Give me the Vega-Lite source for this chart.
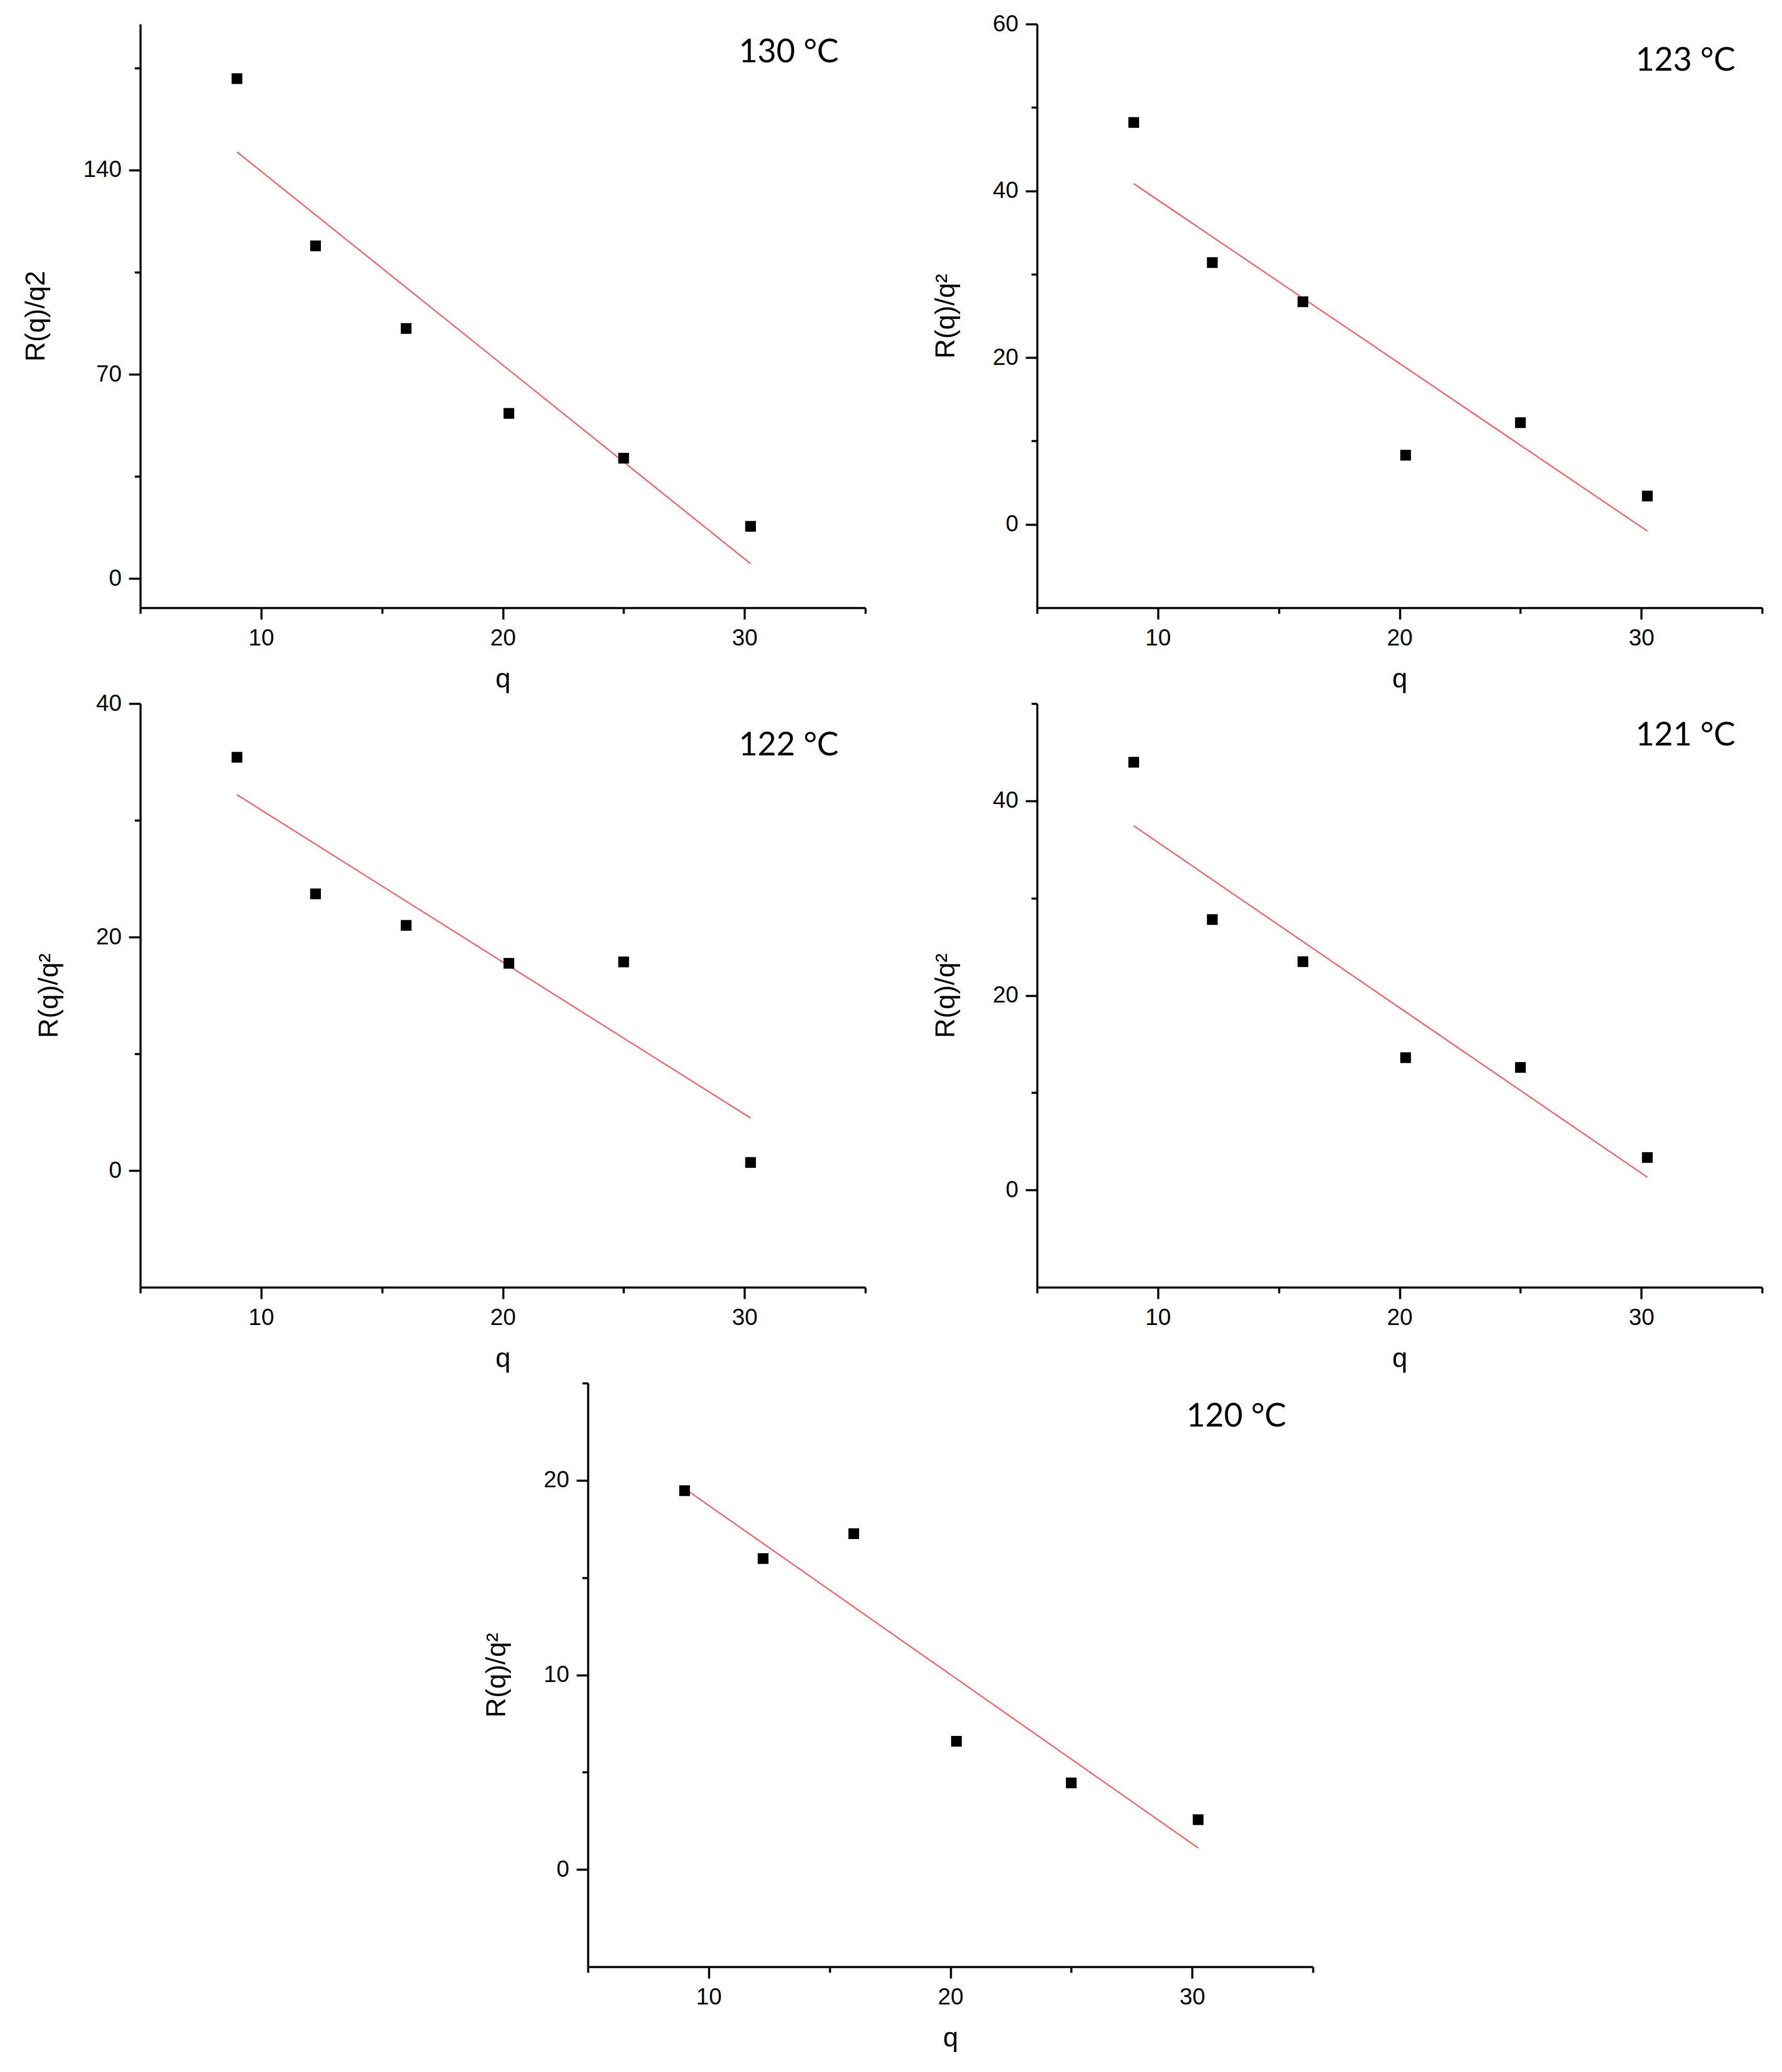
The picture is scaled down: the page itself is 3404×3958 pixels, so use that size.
{
  "$schema": "https://vega.github.io/schema/vega-lite/v6.json",
  "background": "white",
  "padding": {"left": 42, "top": 24, "right": 20, "bottom": 20},
  "spacing": 0,
  "config": {
    "view": {"stroke": null},
    "axis": {
      "grid": false,
      "domainColor": "black",
      "domainWidth": 4,
      "tickColor": "black",
      "tickWidth": 4,
      "tickSize": 22,
      "labelFont": "Liberation Sans",
      "labelFontSize": 44,
      "labelColor": "black",
      "labelPadding": 14,
      "labelOverlap": false,
      "titleFont": "Liberation Sans",
      "titleFontSize": 52,
      "titleFontWeight": "normal",
      "titleColor": "black"
    },
    "axisX": {"titlePadding": 30, "labelFlush": false},
    "axisY": {"titlePadding": 63},
    "title": {
      "font": "Lato",
      "fontSize": 62,
      "fontWeight": "normal",
      "color": "black",
      "anchor": "end",
      "frame": "group",
      "orient": "top",
      "offset": 0,
      "baseline": "alphabetic",
      "dx": -51
    }
  },
  "datasets": {
    "points": [
      {"panel": "130", "q": 9, "r": 171.3},
      {"panel": "130", "q": 12.25, "r": 114.0},
      {"panel": "130", "q": 16, "r": 85.7},
      {"panel": "130", "q": 20.25, "r": 56.6},
      {"panel": "130", "q": 25, "r": 41.25},
      {"panel": "130", "q": 30.25, "r": 17.9},
      {"panel": "123", "q": 9, "r": 48.2},
      {"panel": "123", "q": 12.25, "r": 31.4},
      {"panel": "123", "q": 16, "r": 26.7},
      {"panel": "123", "q": 20.25, "r": 8.3},
      {"panel": "123", "q": 25, "r": 12.2},
      {"panel": "123", "q": 30.25, "r": 3.4},
      {"panel": "122", "q": 9, "r": 35.4},
      {"panel": "122", "q": 12.25, "r": 23.7},
      {"panel": "122", "q": 16, "r": 21.0},
      {"panel": "122", "q": 20.25, "r": 17.75},
      {"panel": "122", "q": 25, "r": 17.87},
      {"panel": "122", "q": 30.25, "r": 0.69},
      {"panel": "121", "q": 9, "r": 43.97},
      {"panel": "121", "q": 12.25, "r": 27.8},
      {"panel": "121", "q": 16, "r": 23.47},
      {"panel": "121", "q": 20.25, "r": 13.6},
      {"panel": "121", "q": 25, "r": 12.6},
      {"panel": "121", "q": 30.25, "r": 3.34},
      {"panel": "120", "q": 9, "r": 19.47},
      {"panel": "120", "q": 12.25, "r": 15.98},
      {"panel": "120", "q": 16, "r": 17.26},
      {"panel": "120", "q": 20.25, "r": 6.59},
      {"panel": "120", "q": 25, "r": 4.45},
      {"panel": "120", "q": 30.25, "r": 2.56}
    ],
    "fits": [
      {"panel": "130", "q": 9, "r": 146.2},
      {"panel": "130", "q": 30.25, "r": 5.1},
      {"panel": "123", "q": 9, "r": 40.86},
      {"panel": "123", "q": 30.25, "r": -0.8},
      {"panel": "122", "q": 9, "r": 32.19},
      {"panel": "122", "q": 30.25, "r": 4.5},
      {"panel": "121", "q": 9, "r": 37.43},
      {"panel": "121", "q": 30.25, "r": 1.31},
      {"panel": "120", "q": 9, "r": 19.58},
      {"panel": "120", "q": 30.25, "r": 1.11}
    ]
  },
  "vconcat": [
    {
      "spacing": 125,
      "hconcat": [
        {
          "width": 1385,
          "height": 1115,
          "title": {"text": "130 °C", "dy": 90},
          "encoding": {
            "x": {"field": "q", "type": "quantitative", "title": "q",
              "scale": {"domain": [5, 35], "nice": false, "zero": false},
              "axis": {"values": [5, 10, 15, 20, 25, 30, 35],
                "labelExpr": "datum.value % 10 === 0 ? datum.label : ''",
                "tickSize": {"condition": {"test": "datum.value % 10 === 0", "value": 22}, "value": 11}}},
            "y": {"field": "r", "type": "quantitative", "title": "R(q)/q2",
              "scale": {"domain": [-10, 190], "nice": false, "zero": false},
              "axis": {"values": [0, 35, 70, 105, 140, 175],
                "labelExpr": "datum.value % 70 === 0 ? datum.label : ''",
                "tickSize": {"condition": {"test": "datum.value % 70 === 0", "value": 22}, "value": 11}}}
          },
          "layer": [
            {"data": {"name": "fits"}, "transform": [{"filter": "datum.panel === '130'"}],
              "mark": {"type": "line", "color": "#ff5a5a", "strokeWidth": 2.5}},
            {"data": {"name": "points"}, "transform": [{"filter": "datum.panel === '130'"}],
              "mark": {"type": "square", "filled": true, "color": "black", "size": 420, "opacity": 1}}
          ]
        },
        {
          "width": 1385,
          "height": 1115,
          "title": {"text": "123 °C", "dy": 128},
          "encoding": {
            "x": {"field": "q", "type": "quantitative", "title": "q",
              "scale": {"domain": [5, 35], "nice": false, "zero": false},
              "axis": {"values": [5, 10, 15, 20, 25, 30, 35],
                "labelExpr": "datum.value % 10 === 0 ? datum.label : ''",
                "tickSize": {"condition": {"test": "datum.value % 10 === 0", "value": 22}, "value": 11}}},
            "y": {"field": "r", "type": "quantitative", "title": "R(q)/q²",
              "scale": {"domain": [-10, 60], "nice": false, "zero": false},
              "axis": {"values": [0, 10, 20, 30, 40, 50, 60],
                "labelExpr": "datum.value % 20 === 0 ? datum.label : ''",
                "tickSize": {"condition": {"test": "datum.value % 20 === 0", "value": 22}, "value": 11}}}
          },
          "layer": [
            {"data": {"name": "fits"}, "transform": [{"filter": "datum.panel === '123'"}],
              "mark": {"type": "line", "color": "#ff5a5a", "strokeWidth": 2.5}},
            {"data": {"name": "points"}, "transform": [{"filter": "datum.panel === '123'"}],
              "mark": {"type": "square", "filled": true, "color": "black", "size": 420, "opacity": 1}}
          ]
        }
      ]
    },
    {
      "spacing": 125,
      "hconcat": [
        {
          "width": 1385,
          "height": 1115,
          "title": {"text": "122 °C", "dy": 138},
          "encoding": {
            "x": {"field": "q", "type": "quantitative", "title": "q",
              "scale": {"domain": [5, 35], "nice": false, "zero": false},
              "axis": {"values": [5, 10, 15, 20, 25, 30, 35],
                "labelExpr": "datum.value % 10 === 0 ? datum.label : ''",
                "tickSize": {"condition": {"test": "datum.value % 10 === 0", "value": 22}, "value": 11}}},
            "y": {"field": "r", "type": "quantitative", "title": "R(q)/q²",
              "scale": {"domain": [-10, 40], "nice": false, "zero": false},
              "axis": {"values": [0, 10, 20, 30, 40],
                "labelExpr": "datum.value % 20 === 0 ? datum.label : ''",
                "tickSize": {"condition": {"test": "datum.value % 20 === 0", "value": 22}, "value": 11}}}
          },
          "layer": [
            {"data": {"name": "fits"}, "transform": [{"filter": "datum.panel === '122'"}],
              "mark": {"type": "line", "color": "#ff5a5a", "strokeWidth": 2.5}},
            {"data": {"name": "points"}, "transform": [{"filter": "datum.panel === '122'"}],
              "mark": {"type": "square", "filled": true, "color": "black", "size": 420, "opacity": 1}}
          ]
        },
        {
          "width": 1385,
          "height": 1115,
          "title": {"text": "121 °C", "dy": 119},
          "encoding": {
            "x": {"field": "q", "type": "quantitative", "title": "q",
              "scale": {"domain": [5, 35], "nice": false, "zero": false},
              "axis": {"values": [5, 10, 15, 20, 25, 30, 35],
                "labelExpr": "datum.value % 10 === 0 ? datum.label : ''",
                "tickSize": {"condition": {"test": "datum.value % 10 === 0", "value": 22}, "value": 11}}},
            "y": {"field": "r", "type": "quantitative", "title": "R(q)/q²",
              "scale": {"domain": [-10, 50], "nice": false, "zero": false},
              "axis": {"values": [0, 10, 20, 30, 40, 50],
                "labelExpr": "datum.value % 20 === 0 ? datum.label : ''",
                "tickSize": {"condition": {"test": "datum.value % 20 === 0", "value": 22}, "value": 11}}}
          },
          "layer": [
            {"data": {"name": "fits"}, "transform": [{"filter": "datum.panel === '121'"}],
              "mark": {"type": "line", "color": "#ff5a5a", "strokeWidth": 2.5}},
            {"data": {"name": "points"}, "transform": [{"filter": "datum.panel === '121'"}],
              "mark": {"type": "square", "filled": true, "color": "black", "size": 420, "opacity": 1}}
          ]
        }
      ]
    },
    {
      "spacing": 20,
      "hconcat": [
        {
          "width": 634,
          "height": 10,
          "data": {"values": []},
          "mark": {"type": "point", "opacity": 0},
          "encoding": {}
        },
        {
          "width": 1385,
          "height": 1115,
          "title": {"text": "120 °C", "dy": 122},
          "encoding": {
            "x": {"field": "q", "type": "quantitative", "title": "q",
              "scale": {"domain": [5, 35], "nice": false, "zero": false},
              "axis": {"values": [5, 10, 15, 20, 25, 30, 35],
                "labelExpr": "datum.value % 10 === 0 ? datum.label : ''",
                "tickSize": {"condition": {"test": "datum.value % 10 === 0", "value": 22}, "value": 11}}},
            "y": {"field": "r", "type": "quantitative", "title": "R(q)/q²",
              "scale": {"domain": [-5, 25], "nice": false, "zero": false},
              "axis": {"values": [0, 5, 10, 15, 20, 25],
                "labelExpr": "datum.value % 10 === 0 ? datum.label : ''",
                "tickSize": {"condition": {"test": "datum.value % 10 === 0", "value": 22}, "value": 11}}}
          },
          "layer": [
            {"data": {"name": "fits"}, "transform": [{"filter": "datum.panel === '120'"}],
              "mark": {"type": "line", "color": "#ff5a5a", "strokeWidth": 2.5}},
            {"data": {"name": "points"}, "transform": [{"filter": "datum.panel === '120'"}],
              "mark": {"type": "square", "filled": true, "color": "black", "size": 420, "opacity": 1}}
          ]
        }
      ]
    }
  ]
}
